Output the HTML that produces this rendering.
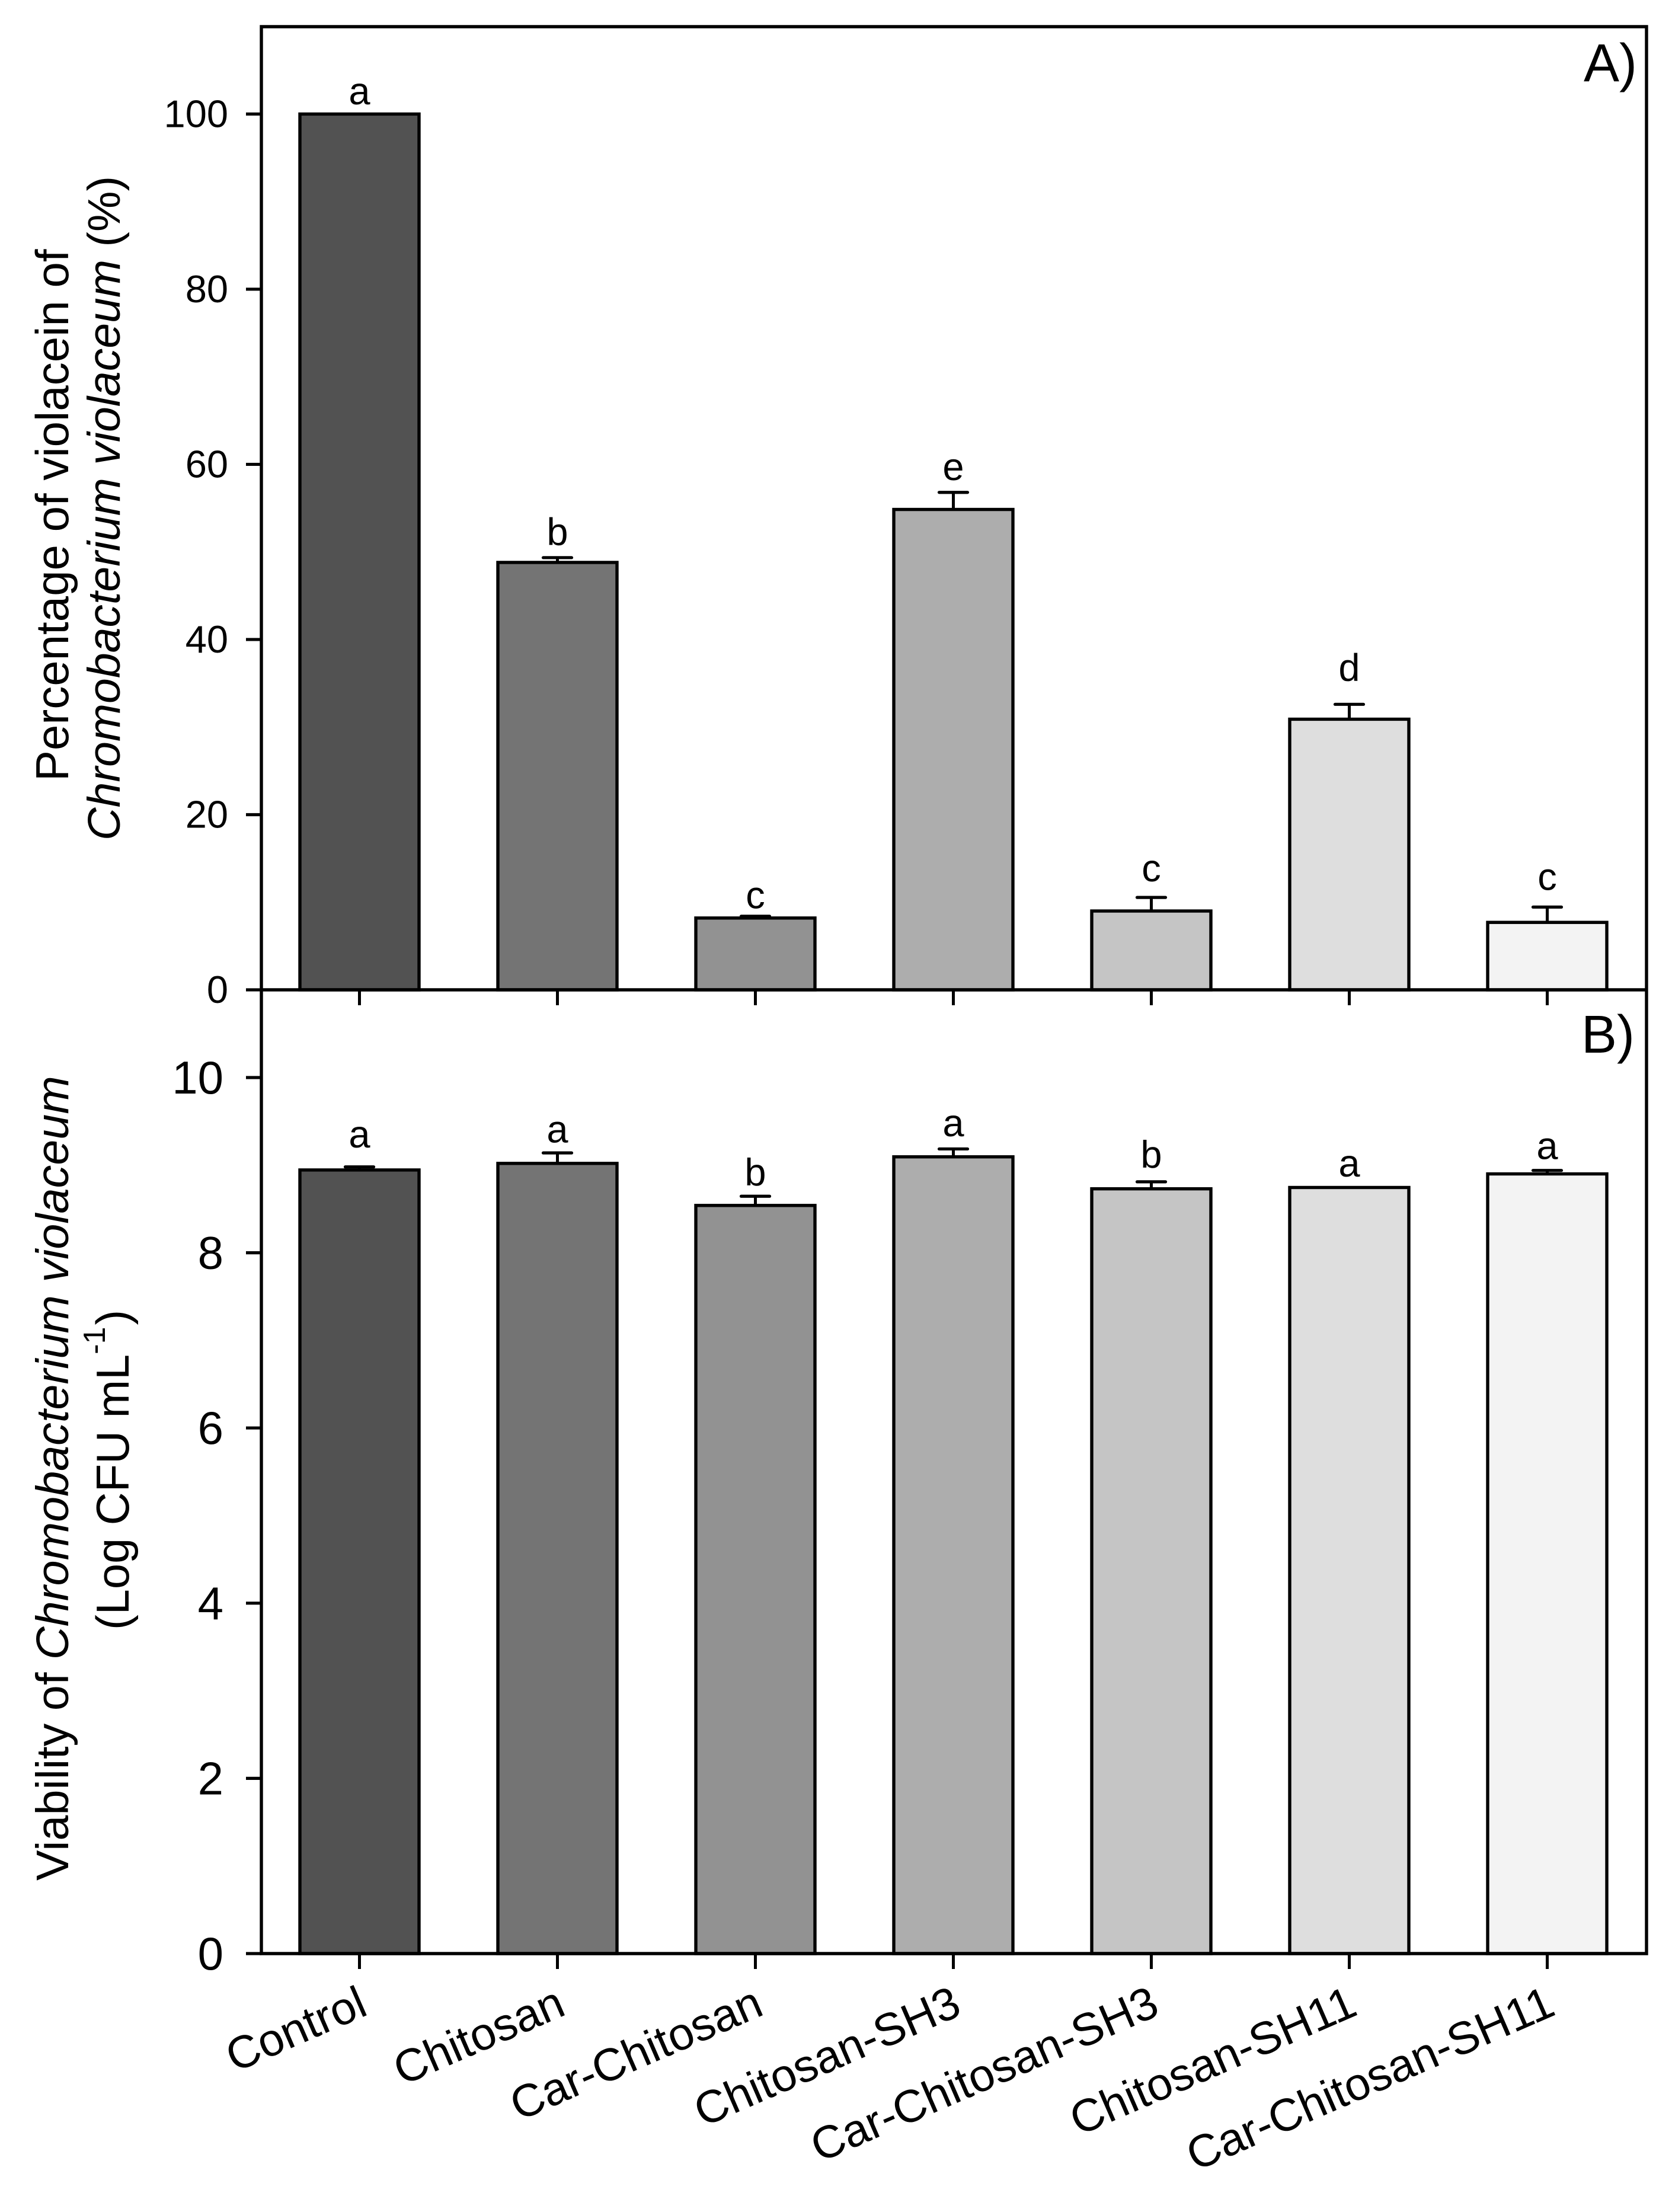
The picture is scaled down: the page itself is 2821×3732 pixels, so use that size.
<!DOCTYPE html>
<html lang="en">
<head>
<meta charset="utf-8">
<title>Violacein and viability of Chromobacterium violaceum</title>
<style>
html,body{margin:0;padding:0;background:#fff;}
svg{display:block;}
text{font-family:"Liberation Sans",Arial,sans-serif;fill:#000;}
</style>
</head>
<body>
<svg id="chart" xmlns="http://www.w3.org/2000/svg" width="2821" height="3732" viewBox="0 0 2821 3732">
  <rect x="0" y="0" width="2821" height="3732" fill="#ffffff"/>

  <text transform="translate(115,1318) rotate(-90)" font-size="78">Percentage of violacein of</text>
  <text transform="translate(202,1418) rotate(-90)" font-size="77"><tspan font-style="italic">Chromobacterium violaceum</tspan> (%)</text>

  <text transform="translate(115,3173) rotate(-90)" font-size="77.4">Viability of <tspan font-style="italic">Chromobacterium violaceum</tspan></text>
  <text transform="translate(217,2750) rotate(-90)" font-size="77.5">(Log CFU mL<tspan font-size="52" dy="-40">-1</tspan><tspan dx="3" dy="40">)</tspan></text>

  <text x="2762" y="137" font-size="90" text-anchor="end">A)</text>
  <text x="2758" y="1776" font-size="90" text-anchor="end">B)</text>

  <g id="marks"></g>

  <path d="M441 1670 V45 H2778 V1670" fill="none" stroke="#000" stroke-width="5.4"/>
  <path d="M441 1670 V3296 H2778 V1670" fill="none" stroke="#000" stroke-width="5.4"/>
  <line x1="441" y1="1670" x2="2778" y2="1670" stroke="#000" stroke-width="5.4"/>
</svg>
<script>
const categories = ['Control', 'Chitosan', 'Car-Chitosan', 'Chitosan-SH3', 'Car-Chitosan-SH3', 'Chitosan-SH11', 'Car-Chitosan-SH11'];

const violaceinValues = [100, 48.8, 8.2, 54.85, 9.0, 30.9, 7.7];
const violaceinErrors = [0, 0.55, 0.2, 1.95, 1.55, 1.7, 1.75];
const violaceinLetters = ['a', 'b', 'c', 'e', 'c', 'd', 'c'];
const violaceinLetterLevels = [101.1, 50.8, 9.3, 58.2, 12.4, 35.3, 11.4];
const violaceinTicks = [0, 20, 40, 60, 80, 100];

const viabilityValues = [8.945, 9.02, 8.54, 9.095, 8.73, 8.745, 8.9];
const viabilityErrors = [0.035, 0.12, 0.105, 0.09, 0.08, 0, 0.04];
const viabilityLetters = ['a', 'a', 'b', 'a', 'b', 'a', 'a'];
const viabilityLetterLevels = [9.2, 9.26, 8.77, 9.33, 8.97, 8.87, 9.07];
const viabilityTicks = [0, 2, 4, 6, 8, 10];

const barFills = ['#525252', '#747474', '#929292', '#adadad', '#c5c5c5', '#dedede', '#f3f3f3'];

const SVGNS = 'http://www.w3.org/2000/svg';
const marks = document.getElementById('marks');

function xCenter(i) { return 606.5 + 334 * i; }
function yViolacein(v) { return 1670 - 14.776 * v; }
function yViability(v) { return 3296 - 147.8 * v; }

function make(tag, attrs) {
  const el = document.createElementNS(SVGNS, tag);
  for (const k in attrs) el.setAttribute(k, attrs[k]);
  marks.appendChild(el);
  return el;
}

function drawPanel(panel, values, errors, letters, levels, ticks, yScale, tickFont, tickRight, tickBaselineShift, xTickBottom) {
  const base = yScale(0);
  values.forEach(function (v, i) {
    const cx = xCenter(i);
    const top = yScale(v);
    if (errors[i] > 0) {
      const capY = yScale(v + errors[i]);
      const stem = make('line', { x1: cx, y1: top, x2: cx, y2: capY, stroke: '#000', 'stroke-width': 5 });
      
      
      const cap = make('line', { x1: cx - 24, y1: capY, x2: cx + 24, y2: capY, stroke: '#000', 'stroke-width': 5.2, 'stroke-linecap': 'round' });
      
      
    }
    const bar = make('rect', { x: cx - 100.5, y: top, width: 201, height: base - top, fill: barFills[i], stroke: '#000', 'stroke-width': 5.4 });
    
    

    const letter = make('text', { x: cx, y: yScale(levels[i]), 'font-size': 65, 'text-anchor': 'middle' });
    letter.textContent = letters[i];
    
    

    const xTick = make('line', { x1: cx, y1: base, x2: cx, y2: xTickBottom, stroke: '#000', 'stroke-width': 5 });
    
    
  });

  ticks.forEach(function (t) {
    const y = yScale(t);
    const tick = make('line', { x1: 415, y1: y, x2: 441, y2: y, stroke: '#000', 'stroke-width': 5.2 });
    
    
    const label = make('text', { x: tickRight, y: y + tickBaselineShift, 'font-size': tickFont, 'text-anchor': 'end' });
    label.textContent = String(t);
    
    
  });
}

drawPanel('a', violaceinValues, violaceinErrors, violaceinLetters, violaceinLetterLevels, violaceinTicks, yViolacein, 65, 385, 22, 1696);
drawPanel('b', viabilityValues, viabilityErrors, viabilityLetters, viabilityLetterLevels, viabilityTicks, yViability, 78, 377, 27, 3322);

categories.forEach(function (name, i) {
  const label = make('text', {
    transform: 'translate(' + (xCenter(i) + 17) + ',3398) rotate(-23.5)',
    'font-size': 77,
    'text-anchor': 'end'
  });
  label.textContent = name;
  
  
});
</script>
</body>
</html>
